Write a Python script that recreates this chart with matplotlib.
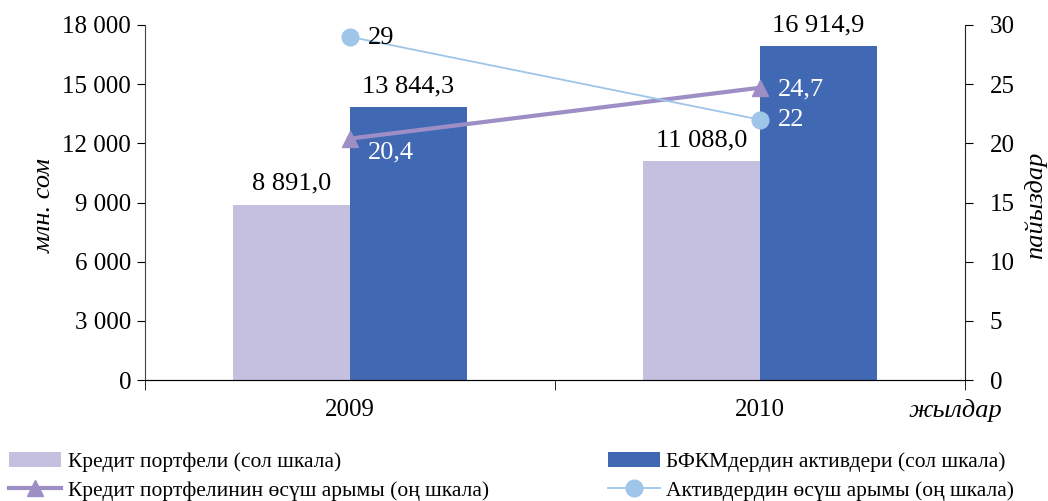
import matplotlib.pyplot as plt
import numpy as np
from matplotlib.ticker import FuncFormatter

plt.rcParams["font.family"] = ["Liberation Serif", "DejaVu Serif"]
plt.rcParams["font.size"] = 18

years = ["2009", "2010"]
credit_portfolio = [8891.0, 11088.0]
bfkm_assets = [13844.3, 16914.9]
credit_growth = [20.4, 24.7]
assets_growth = [29, 22]

light = "#c5c0e0"
dark = "#4169b3"
purple = "#9d8fc6"
sky = "#9fc5e8"


def space_fmt(v, pos=None):
    return f"{int(v):,}".replace(",", " ")


def dec_fmt(v):
    return f"{v:,.1f}".replace(",", " ").replace(".", ",")


fig = plt.figure(figsize=(10.48, 5.01), dpi=100)
ax = fig.add_axes([0.1384, 0.2415, 0.7824, 0.7086])
ax2 = ax.twinx()

x = np.arange(len(years))
w = 0.285
b1 = ax.bar(x - w / 2, credit_portfolio, w, color=light, label="Кредит портфели (сол шкала)")
b2 = ax.bar(x + w / 2, bfkm_assets, w, color=dark, label="БФКМдердин активдери (сол шкала)")

for xi, v in zip(x - w / 2, credit_portfolio):
    ax.annotate(dec_fmt(v), (xi, v), xytext=(0, 15), textcoords="offset points",
                ha="center", va="center", fontsize=19)
for xi, v in zip(x + w / 2, bfkm_assets):
    ax.annotate(dec_fmt(v), (xi, v), xytext=(0, 15), textcoords="offset points",
                ha="center", va="center", fontsize=19)

ax.set_xlim(-0.5, 1.5)
ax.set_ylim(0, 18000)
ax.set_yticks(np.arange(0, 18001, 3000))
ax.yaxis.set_major_formatter(FuncFormatter(space_fmt))
ax.set_xticks(x)
ax.set_xticklabels(years)
ax.set_xticks([-0.5, 0.5, 1.5], minor=True)
ax.tick_params(axis="x", which="major", length=0, pad=14)
ax.tick_params(axis="x", which="minor", length=7, direction="out")
ax.tick_params(axis="y", length=6, direction="out", pad=4)
for s in ["top", "right"]:
    ax.spines[s].set_visible(False)
ax.spines["left"].set_color("#444444")
ax.spines["bottom"].set_color("#444444")

l1, = ax2.plot(x, credit_growth, color=purple, lw=3, marker="^", markersize=12,
               label="Кредит портфелинин өсүш арымы (оң шкала)")
l2, = ax2.plot(x, assets_growth, color=sky, lw=1.3, marker="o", markersize=12,
               label="Активдердин өсүш арымы (оң шкала)")
ax2.set_ylim(0, 30)
ax2.set_yticks(np.arange(0, 31, 5))
ax2.tick_params(axis="y", length=6, direction="out", pad=12)
for s in ["top", "left"]:
    ax2.spines[s].set_visible(False)
ax2.spines["right"].set_color("#222222")

# axis titles placed by hand, like the reference
fig.text(0.043, 0.59, "млн. сом", rotation=90, style="italic", fontsize=19,
         ha="center", va="center")
fig.text(0.988, 0.59, "пайыздар", rotation=90, style="italic", fontsize=19,
         ha="center", va="center")

ax2.annotate("29", (x[0], assets_growth[0]), xytext=(13, -1), textcoords="offset points",
             va="center", fontsize=19)
ax2.annotate("20,4", (x[0], credit_growth[0]), xytext=(13, -10), textcoords="offset points",
             va="center", fontsize=19, color="white")
ax2.annotate("24,7", (x[1], credit_growth[1]), xytext=(13, -1), textcoords="offset points",
             va="center", fontsize=19, color="white")
ax2.annotate("22", (x[1], assets_growth[1]), xytext=(13, 0), textcoords="offset points",
             va="center", fontsize=19, color="white")

ax.text(1.5 + 0.09, -0.087, "жылдар", transform=ax.get_xaxis_transform(), ha="right",
        va="center", style="italic", fontsize=19)

leg_kw = dict(frameon=False, fontsize=15.5, handlelength=2.4, handletextpad=0.3,
              labelspacing=0.42, borderaxespad=0.0, borderpad=0.0)
fig.legend([b1, l1], [b1.get_label(), l1.get_label()], loc="lower left",
           bbox_to_anchor=(0.009, 0.0), **leg_kw)
fig.legend([b2, l2], [b2.get_label(), l2.get_label()], loc="lower left",
           bbox_to_anchor=(0.58, 0.0), **leg_kw)

fig.savefig("out.png", dpi=100)
